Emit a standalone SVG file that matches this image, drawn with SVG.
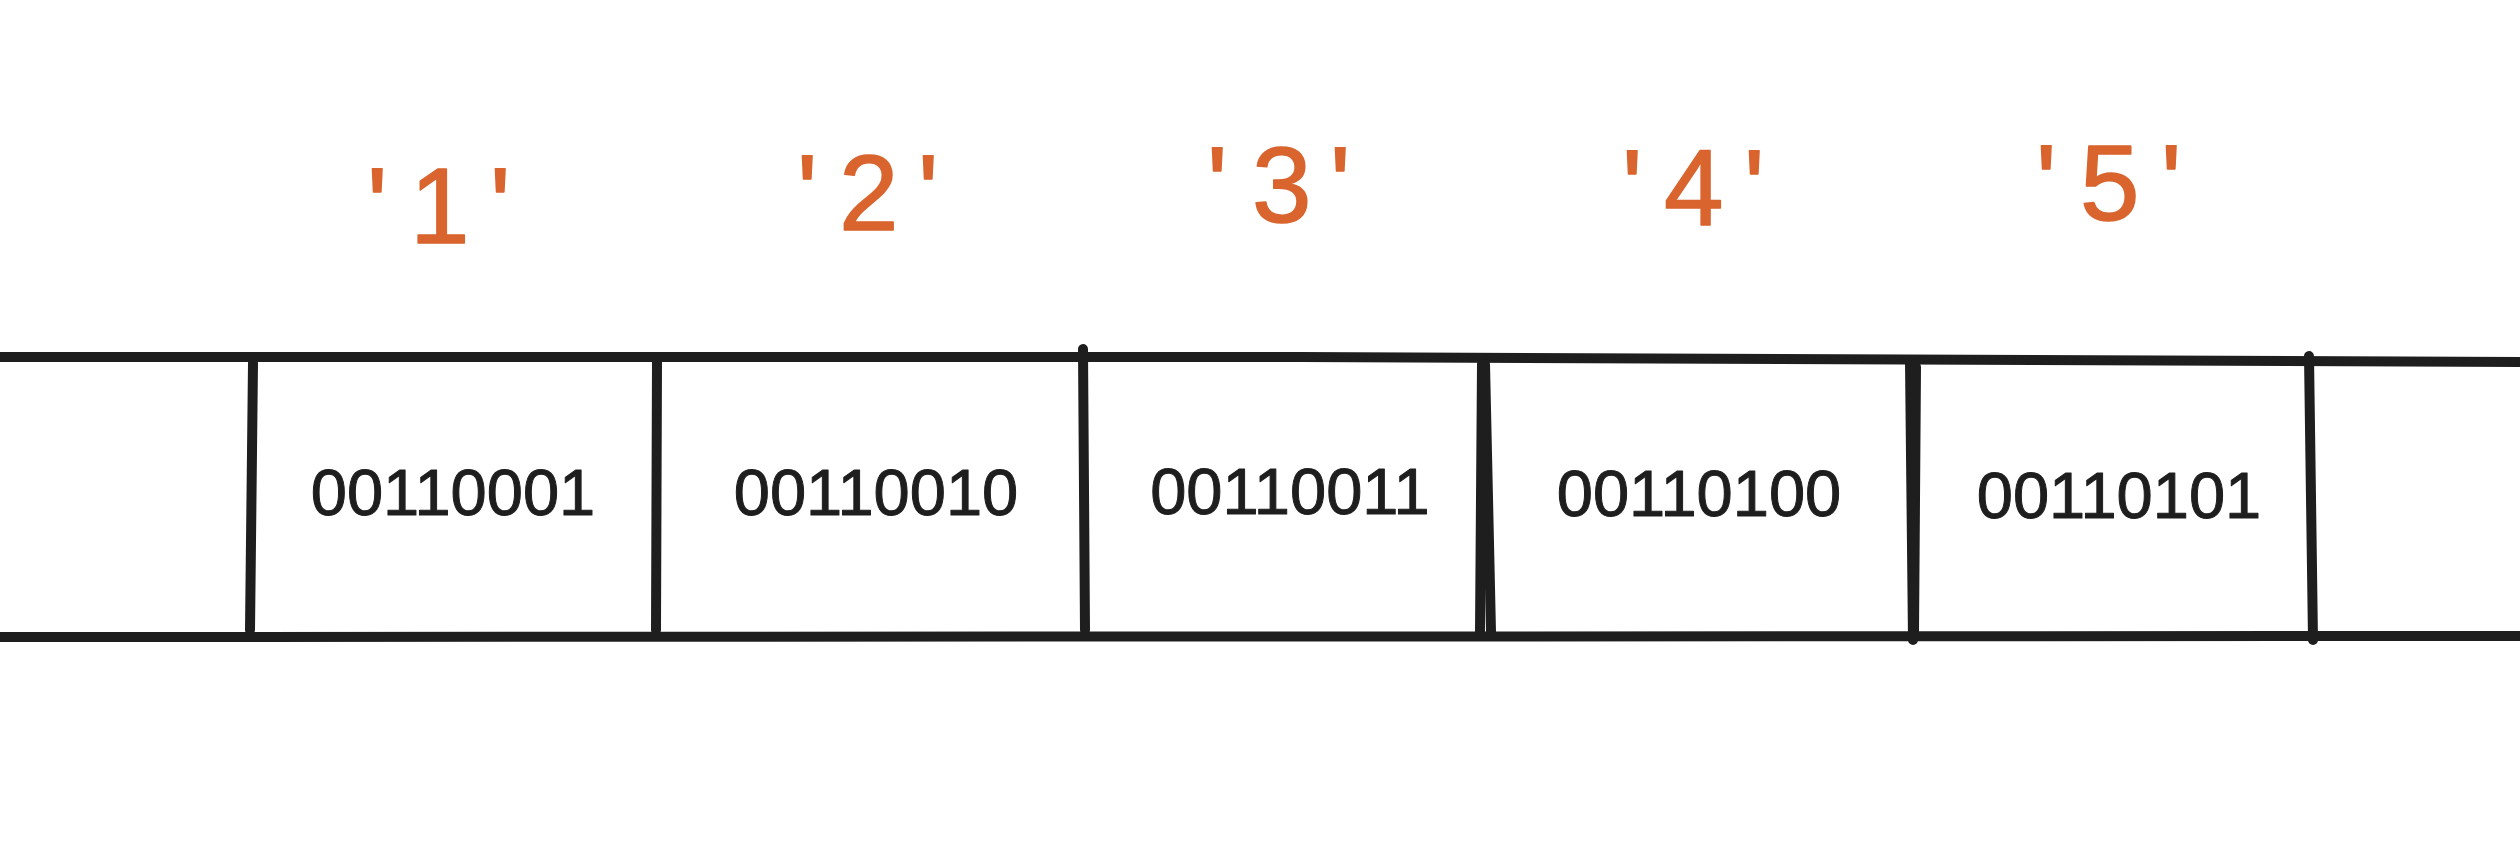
<svg xmlns="http://www.w3.org/2000/svg" width="2520" height="850" viewBox="0 0 2520 850">
  <style>
    .ln { fill: none; stroke: #1e1e1e; stroke-width: 10; stroke-linecap: round; stroke-linejoin: round; }
    .bin { font-family: "Liberation Sans", Arial, sans-serif; font-size: 65px; fill: #1e1e1e; stroke: #1e1e1e; stroke-width: 1; stroke-linejoin: round; text-anchor: middle; }
    .lbl { font-family: "Liberation Sans", Arial, sans-serif; font-size: 107px; fill: #d9642e; stroke: #d9642e; stroke-width: 1.5; stroke-linejoin: round; }
  </style>
  <rect width="2520" height="850" fill="#ffffff"/>
  <g id="tape">
    <path class="ln" d="M -10 357 L 1300 357 L 2530 362"/>
    <path class="ln" d="M -10 637 L 2530 636"/>
    <path class="ln" d="M 253 363 L 250 630"/>
    <path class="ln" d="M 657 361 L 656 630"/>
    <path class="ln" d="M 1083 349 L 1085 630"/>
    <path class="ln" d="M 1482 364 L 1480 632"/>
    <path class="ln" d="M 1485 364 L 1491 632"/>
    <path class="ln" d="M 1910 362 L 1913 640"/>
    <path class="ln" d="M 1916 367 L 1914 632"/>
    <path class="ln" d="M 2309 356 L 2313 640"/>
  </g>
  <g id="cell-1">
    <text class="lbl" x="367 410 490" y="243">'1'</text>
    <text class="bin" x="453" y="515">00110001</text>
  </g>
  <g id="cell-2">
    <text class="lbl" x="797 839 918" y="230">'2'</text>
    <text class="bin" x="876" y="515">00110010</text>
  </g>
  <g id="cell-3">
    <text class="lbl" x="1207 1252 1330" y="222">'3'</text>
    <text class="bin" x="1290" y="514">00110011</text>
  </g>
  <g id="cell-4">
    <text class="lbl" x="1622 1664 1744" y="225">'4'</text>
    <text class="bin" x="1699" y="516">00110100</text>
  </g>
  <g id="cell-5">
    <text class="lbl" x="2036 2080 2161" y="220">'5'</text>
    <text class="bin" x="2119" y="518">00110101</text>
  </g>
</svg>
